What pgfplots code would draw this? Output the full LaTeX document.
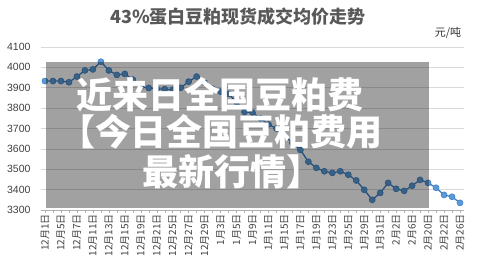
\documentclass[border=0pt]{standalone}
\usepackage{fontspec}
\setmainfont{Liberation Sans}
\newfontfamily\cjk{Noto Sans CJK SC}
\usepackage{pgfplots}
\pgfplotsset{compat=1.18}
\definecolor{lineblue}{HTML}{3F80C6}
\definecolor{markblue}{HTML}{5B9BD5}
\definecolor{gridc}{HTML}{D9D9D9}
\definecolor{titlec}{HTML}{595959}
\begin{document}
\begin{tikzpicture}[x=1pt,y=1pt]
\path[use as bounding box] (0pt,0pt) rectangle (477pt,273pt);
\begin{axis}[
  at={(41pt,63pt)}, anchor=south west,
  scale only axis, width=423pt, height=163pt,
  xmin=-0.5, xmax=52.5, ymin=3300, ymax=4100,
  ytick={3300,3400,...,4100},
  ymajorgrids, major grid style={gridc, line width=0.6pt},
  axis x line*=bottom,
  axis y line*=left,
  x axis line style={draw=gridc!80!black, -},
  y axis line style={draw=none},
  xtick={0,...,52},
  xticklabels={12月1日,,12月5日,,12月7日,,12月11日,,12月13日,,12月15日,,12月19日,,12月21日,,12月25日,,12月27日,,12月29日,,1月3日,,1月5日,,1月9日,,1月11日,,1月15日,,1月17日,,1月19日,,1月23日,,1月25日,,1月29日,,1月31日,,2月2日,,2月6日,,2月20日,,2月22日,,2月26日},
  xticklabel style={font=\cjk\fontsize{10}{11}\selectfont, rotate=90, anchor=east, text=black!75, inner sep=1pt},
  xtick style={draw=gridc!80!black, line width=0.4pt},
  tick align=outside, major tick length=3pt,
  ytick style={draw=none},
  yticklabel style={font=\fontsize{10.5}{12}\selectfont, text=black!75, xshift=-4pt},
  /pgf/number format/assume math mode=true,
  /pgf/number format/set thousands separator={},
  clip=false,
]
\addplot[lineblue, line width=1.3pt, mark=*, mark size=3pt, mark options={fill=markblue, draw=lineblue, line width=0.6pt}] coordinates {
(0,3933) (1,3933) (2,3933) (3,3927) (4,3955) (5,3985) (6,3990) (7,4028) (8,3985) (9,3963)
(10,3968) (11,3940) (12,3905) (13,3899) (14,3895) (15,3893) (16,3890) (17,3900) (18,3930) (19,3955)
(20,3925) (21,3895) (22,3881) (23,3870) (24,3830) (25,3781) (26,3778) (27,3750) (28,3720) (29,3700)
(30,3665) (31,3629) (32,3595) (33,3537) (34,3507) (35,3490) (36,3482) (37,3490) (38,3473) (39,3445)
(40,3399) (41,3350) (42,3384) (43,3433) (44,3404) (45,3394) (46,3419) (47,3448) (48,3433) (49,3409)
(50,3374) (51,3365) (52,3335)
};
\end{axis}
\fill[black, opacity=0.37] (46pt,65pt) rectangle (429pt,211pt);
\node[text=titlec, font=\cjk\bfseries\fontsize{18}{20}\selectfont] at (238pt,256pt) {43\%蛋白豆粕现货成交均价走势};
\node[text=black!80, font=\cjk\fontsize{11}{12}\selectfont] at (448pt,240pt) {元/吨};
\node[text=white, font=\cjk\bfseries\fontsize{36}{38}\selectfont] at (220pt,178pt) {近来日全国豆粕费};
\node[text=white, font=\cjk\bfseries\fontsize{36}{38}\selectfont] at (221pt,141pt) {【今日全国豆粕费用};
\node[text=white, font=\cjk\bfseries\fontsize{36}{38}\selectfont] at (232pt,101pt) {最新行情】};
\end{tikzpicture}
\end{document}
